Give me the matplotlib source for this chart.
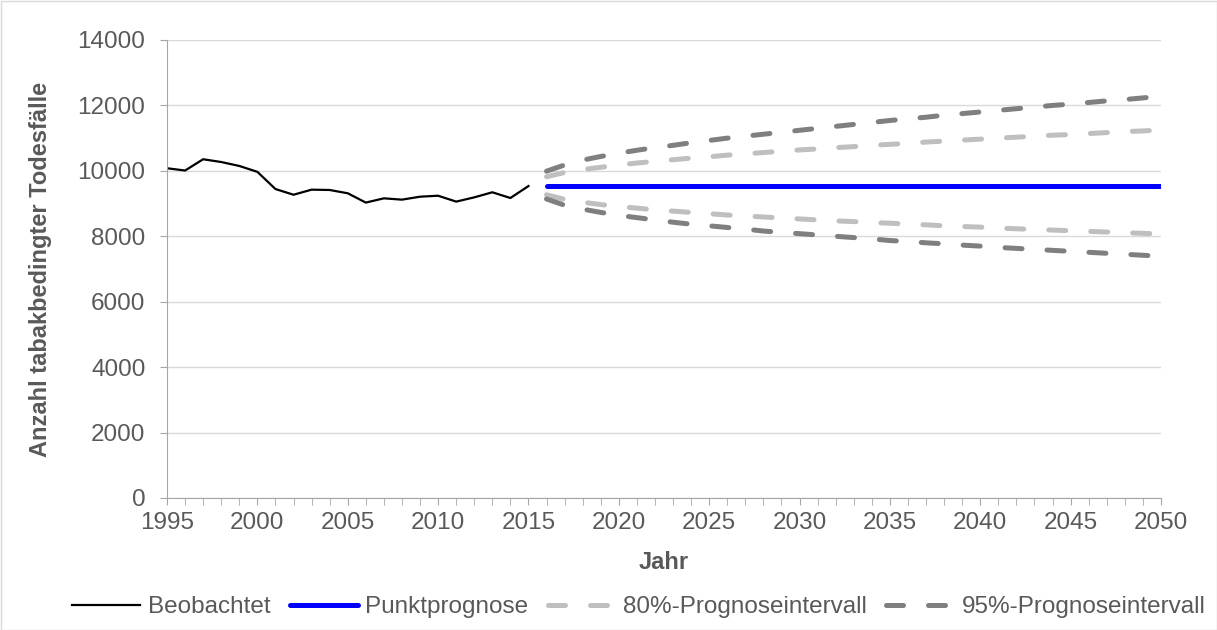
import numpy as np
import matplotlib.pyplot as plt
from matplotlib.patches import Rectangle

plt.rcParams['font.family'] = ['Liberation Sans', 'DejaVu Sans']

years_obs = list(range(1995, 2016))
beobachtet = [10080, 10010, 10355, 10270, 10150, 9970, 9445, 9270, 9425, 9415, 9315,
              9030, 9160, 9120, 9210, 9240, 9060, 9190, 9345, 9170, 9535]

years_fc = list(range(2016, 2051))
punkt = [9530] * len(years_fc)
upper95 = [9990, 10180, 10330, 10440, 10540, 10630, 10710, 10780, 10860, 10930,
           11000, 11060, 11120, 11180, 11240, 11300, 11360, 11420, 11480, 11540,
           11590, 11640, 11700, 11750, 11800, 11850, 11900, 11950, 12000, 12040,
           12090, 12140, 12180, 12230, 12280]
upper80 = [9820, 9950, 10040, 10110, 10180, 10240, 10290, 10340, 10390, 10430,
           10480, 10520, 10560, 10600, 10640, 10670, 10710, 10740, 10780, 10810,
           10840, 10880, 10910, 10940, 10970, 11000, 11030, 11060, 11090, 11110,
           11140, 11170, 11200, 11220, 11250]
lower80 = [9270, 9130, 9040, 8970, 8910, 8860, 8810, 8770, 8730, 8690,
           8650, 8620, 8590, 8560, 8530, 8500, 8470, 8450, 8420, 8400,
           8370, 8350, 8320, 8300, 8280, 8250, 8230, 8210, 8190, 8170,
           8150, 8130, 8110, 8090, 8070]
lower95 = [9140, 8950, 8830, 8730, 8640, 8570, 8500, 8430, 8370, 8320,
           8270, 8220, 8160, 8120, 8080, 8040, 8000, 7960, 7920, 7870,
           7840, 7800, 7770, 7730, 7700, 7660, 7630, 7600, 7570, 7540,
           7510, 7480, 7450, 7420, 7390]

grey_text = '#595959'
c80 = '#bfbfbf'
c95 = '#7f7f7f'

fig = plt.figure(figsize=(12.17, 6.3), dpi=100)
ax = fig.add_axes([167 / 1217, 1 - 498 / 630, (1161 - 167) / 1217, (498 - 40) / 630])

ax.plot(years_obs, beobachtet, color='black', lw=1.6, label='Beobachtet')
ax.plot(years_fc, punkt, color='#0000ff', lw=3.6, solid_capstyle='round', label='Punktprognose')
dash = (3.4, 5)
ax.plot(years_fc, upper80, color=c80, lw=3.6, dashes=dash, dash_capstyle='round',
        label='80%-Prognoseintervall')
ax.plot(years_fc, lower80, color=c80, lw=3.6, dashes=dash, dash_capstyle='round')
ax.plot(years_fc, upper95, color=c95, lw=3.6, dashes=dash, dash_capstyle='round',
        label='95%-Prognoseintervall')
ax.plot(years_fc, lower95, color=c95, lw=3.6, dashes=dash, dash_capstyle='round')

ax.set_xlim(1995, 2050)
ax.set_ylim(0, 14000)
ax.set_xticks(range(1995, 2051, 5))
ax.set_xticks(range(1995, 2051), minor=True)
ax.set_yticks(range(0, 14001, 2000))
ax.tick_params(axis='both', colors='#a6a6a6', labelcolor=grey_text, labelsize=17.5, length=5)
ax.tick_params(axis='y', pad=10.5)
ax.tick_params(axis='x', pad=5)
ax.tick_params(axis='x', which='minor', colors='#a6a6a6', length=5)
ax.grid(axis='y', color='#d9d9d9', lw=1)
ax.set_axisbelow(True)
for s in ['top', 'right']:
    ax.spines[s].set_visible(False)
for s in ['left', 'bottom']:
    ax.spines[s].set_color('#a6a6a6')

ax.set_xlabel('Jahr', fontsize=17, fontweight='bold', color=grey_text, labelpad=12)
ax.set_ylabel('Anzahl tabakbedingter Todesfälle', fontsize=17, fontweight='bold',
              color=grey_text, labelpad=18)

leg = fig.legend(loc='center', bbox_to_anchor=(639 / 1217, 1 - 607 / 630), ncol=4, frameon=False,
                 fontsize=17.5, handlelength=2.8, handletextpad=0.3, columnspacing=0.8)
for t in leg.get_texts():
    t.set_color(grey_text)

fig.patches.append(Rectangle((0.5 / 1217, 0.5 / 630), 1 - 1 / 1217, 1 - 1 / 630,
                             transform=fig.transFigure, fill=False, edgecolor='#d9d9d9', lw=1))

fig.savefig('out.png', dpi=100)
